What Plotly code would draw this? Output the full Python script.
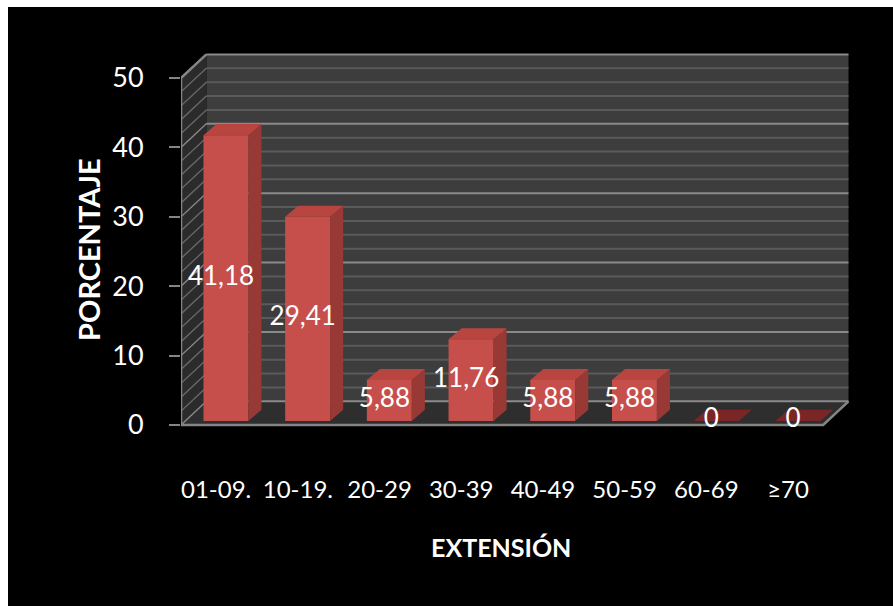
import plotly.graph_objects as go

# ---- data -------------------------------------------------------------
categorias = ["01-09.", "10-19.", "20-29", "30-39", "40-49", "50-59", "60-69", "≥70"]
porcentaje = [41.18, 29.41, 5.88, 11.76, 5.88, 5.88, 0, 0]
y_ticks = [0, 10, 20, 30, 40, 50]

etiquetas = ["0" if v == 0 else f"{v:.2f}".replace(".", ",") for v in porcentaje]
idx = list(range(len(categorias)))

# ---- 3-D box geometry (data units) ------------------------------------
X0, X1 = -0.43, 7.43          # front edge of the floor
DX, DY = 0.31, 3.4            # depth shift of the back wall
YMAX = 50
BASE = 0.58                   # bars stand slightly behind the front edge
BX, BW = 0.12, 0.55           # bar shift and front-face width
BDX, BDY = 0.16, 1.6          # bar depth

FONT = "Lato, sans-serif"
FRONT = "#c74f4b"
SIDE = "#983936"
TOP = "#b8453f"
TOP_ZERO = "#7b2626"

W, H = 893, 606
L, R, T, B = 181, 42, 52, 179
px_cat = 81.7
px_unit = 6.938
xr = [X0, X0 + (W - L - R) / px_cat]
yr = [-0.3, -0.3 + (H - T - B) / px_unit]


def px(xp):
    return (xp - L) / (W - L - R)


def py(yp):
    return (H - B - yp) / (H - T - B)


shapes = []
# black canvas with thin white margin on the left and top
shapes.append(dict(type="rect", xref="paper", yref="paper", layer="below",
                   x0=px(8), x1=px(W + 5), y0=py(H + 5), y1=py(7),
                   fillcolor="black", line=dict(width=0)))
# back wall
shapes.append(dict(type="rect", xref="x", yref="y", layer="below",
                   x0=X0 + DX, x1=X1 + DX, y0=DY, y1=YMAX + DY,
                   fillcolor="#3d3d3d", line=dict(width=0)))
# side wall
shapes.append(dict(type="path", xref="x", yref="y", layer="below",
                   path=f"M{X0},0 L{X0},{YMAX} L{X0 + DX},{YMAX + DY} L{X0 + DX},{DY} Z",
                   fillcolor="#2b2b2b", line=dict(width=0)))
# floor
shapes.append(dict(type="path", xref="x", yref="y", layer="below",
                   path=f"M{X0},0 L{X1},0 L{X1 + DX},{DY} L{X0 + DX},{DY} Z",
                   fillcolor="#2e2e2e", line=dict(width=0)))
# gridlines on back and side walls
for u in range(0, YMAX + 1, 2):
    major = u % 10 == 0
    col = "#8a8a8a" if major else "#5a5a5a"
    shapes.append(dict(type="line", xref="x", yref="y", layer="below",
                       x0=X0 + DX, x1=X1 + DX, y0=u + DY, y1=u + DY,
                       line=dict(color=col, width=2)))
    shapes.append(dict(type="line", xref="x", yref="y", layer="below",
                       x0=X0, x1=X0 + DX, y0=u, y1=u + DY,
                       line=dict(color="#8a8a8a" if major else "#6a6a6a", width=1.3)))

fig = go.Figure()

# bar front faces
fig.add_trace(go.Bar(
    x=idx, y=porcentaje, base=BASE, width=BW, offset=BX - BW / 2,
    marker=dict(color=FRONT, line=dict(width=0)), hoverinfo="skip",
))

# bar side and top faces
side_x, side_y, top_x, top_y, topz_x, topz_y = [], [], [], [], [], []
for i, v in zip(idx, porcentaje):
    xa = i + BX - BW / 2
    xb = i + BX + BW / 2
    if v > 0:
        side_x += [xb, xb + BDX, xb + BDX, xb, xb, None]
        side_y += [BASE, BASE + BDY, BASE + v + BDY, BASE + v, BASE, None]
        top_x += [xa, xb, xb + BDX, xa + BDX, xa, None]
        top_y += [BASE + v, BASE + v, BASE + v + BDY, BASE + v + BDY, BASE + v, None]
    else:
        topz_x += [xa, xb, xb + BDX, xa + BDX, xa, None]
        topz_y += [BASE, BASE, BASE + BDY, BASE + BDY, BASE, None]

for xs, ys, col in [(side_x, side_y, SIDE), (top_x, top_y, TOP), (topz_x, topz_y, TOP_ZERO)]:
    fig.add_trace(go.Scatter(x=xs, y=ys, mode="lines", fill="toself", fillcolor=col,
                             line=dict(width=0, color=col), hoverinfo="skip"))

# front edges of the box
fig.add_trace(go.Scatter(
    x=[X0 + DX, X0, X0, X1, X1 + DX], y=[YMAX + DY, YMAX, 0, 0, DY],
    mode="lines", line=dict(color="#858585", width=2.5), cliponaxis=False, hoverinfo="skip",
))

# value labels
fig.add_trace(go.Scatter(
    x=[i + 0.06 for i in idx], y=[BASE + v / 2 for v in porcentaje],
    text=etiquetas, mode="text", cliponaxis=False,
    textfont=dict(family=FONT, size=26, color="white"), hoverinfo="skip",
))

annotations = [
    dict(text="<b>EXTENSIÓN</b>", xref="paper", yref="paper", x=px(501), y=py(547),
         xanchor="center", yanchor="middle",
         showarrow=False, font=dict(family=FONT, size=25, color="white")),
    dict(text="<b>PORCENTAJE</b>", xref="paper", yref="paper", x=px(88), y=py(250),
         xanchor="center", yanchor="middle",
         textangle=-90, showarrow=False, font=dict(family=FONT, size=29, color="white")),
]

fig.update_layout(
    width=W, height=H,
    margin=dict(l=L, r=R, t=T, b=B, pad=0),
    paper_bgcolor="white", plot_bgcolor="rgba(0,0,0,0)",
    showlegend=False, shapes=shapes, annotations=annotations,
    xaxis=dict(range=xr, tickvals=idx, ticktext=categorias, showgrid=False,
               zeroline=False, showline=False, ticks="", ticklabelstandoff=46,
               tickangle=0,
               tickfont=dict(family=FONT, size=24, color="white"), fixedrange=True),
    yaxis=dict(range=yr, tickvals=y_ticks, showgrid=False, zeroline=False,
               showline=False, ticks="outside", ticklen=11, tickwidth=2,
               tickcolor="#858585", ticklabelstandoff=20,
               tickfont=dict(family=FONT, size=27, color="white"), fixedrange=True),
)

fig.write_html("out.html")
